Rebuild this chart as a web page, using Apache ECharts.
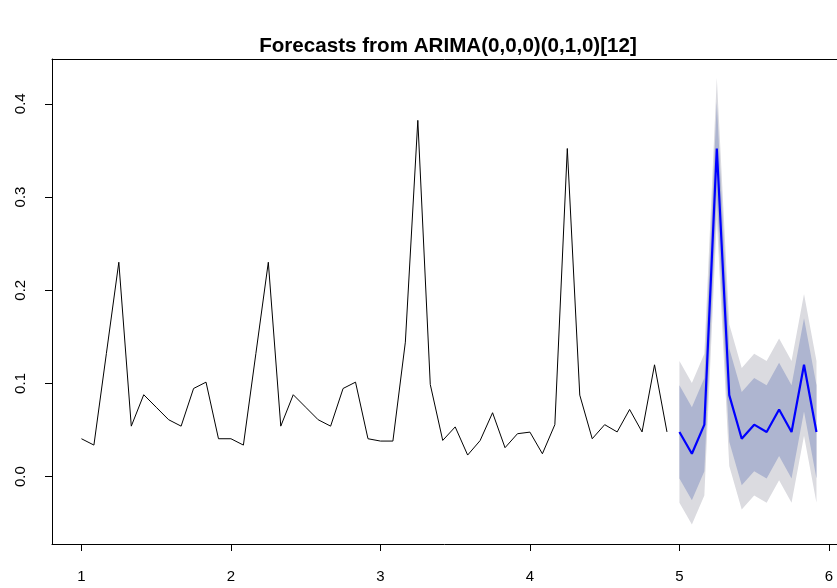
<!DOCTYPE html>
<html>
<head>
<meta charset="utf-8">
<script src="https://cdn.jsdelivr.net/npm/echarts@6/dist/echarts.min.js"></script>
<style>
  html, body { margin: 0; padding: 0; background: #fff; }
  #chart { width: 837px; height: 588px; }
</style>
</head>
<body>
<div id="chart"></div>
<script>
// observed series, monthly, years 1..4
const startYear = 1
const freq = 12
const history = [
  0.0407, 0.0339, 0.132, 0.230, 0.0542, 0.0879, 0.0745, 0.0611, 0.0542, 0.0946, 0.1014, 0.0407,
  0.0407, 0.0339, 0.132, 0.230, 0.0542, 0.0879, 0.0745, 0.0611, 0.0542, 0.0946, 0.1014, 0.0407,
  0.0382, 0.0382, 0.1443, 0.3822, 0.0989, 0.0389, 0.0534, 0.0232, 0.0387, 0.0686, 0.0311, 0.0461,
  0.0478, 0.0246, 0.0558, 0.352, 0.0875, 0.0407, 0.0558, 0.048, 0.0721, 0.048, 0.120, 0.048
]

// forecast for year 5 and its intervals
const forecastStart = 5
const forecast = [0.048, 0.0246, 0.0558, 0.352, 0.0875, 0.0407, 0.0558, 0.048, 0.0721, 0.048, 0.120, 0.048]
const hi80 = [0.098, 0.0746, 0.1058, 0.402, 0.1375, 0.0907, 0.1058, 0.098, 0.1221, 0.098, 0.170, 0.098]
const lo80 = [-0.002, -0.0254, 0.0058, 0.302, 0.0375, -0.0093, 0.0058, -0.002, 0.0221, -0.002, 0.070, -0.002]
const hi95 = [0.124, 0.1006, 0.1318, 0.428, 0.1635, 0.1167, 0.1318, 0.124, 0.1481, 0.124, 0.196, 0.124]
const lo95 = [-0.028, -0.0514, -0.0202, 0.276, 0.0115, -0.0353, -0.0202, -0.028, -0.0039, -0.028, 0.044, -0.028]

const xTicks = [1, 2, 3, 4, 5, 6]
const yTicks = [0, 0.1, 0.2, 0.3, 0.4]

const histData = history.map((v, i) => [startYear + i / freq, v])
const fcData = forecast.map((v, i) => [forecastStart + i / freq, v])

// 区间带：用多边形画
const bandSeries = (lo, hi, color) => ({
  type: 'custom',
  silent: true,
  clip: true,
  data: [0],
  renderItem: (params, api) => {
    const pts = []
    hi.forEach((v, i) => pts.push(api.coord([forecastStart + i / freq, v])))
    for (let i = lo.length - 1; i >= 0; i--) {
      pts.push(api.coord([forecastStart + i / freq, lo[i]]))
    }
    return { type: 'polygon', shape: { points: pts }, style: { fill: color } }
  }
})

const chart = echarts.init(document.getElementById('chart'))
const font = 'Liberation Sans, Arial, Helvetica, sans-serif'
const xMin = 0.803
const xMax = 6.054  // 右边框在画布外，所以截到画布边缘

chart.setOption({
  animation: false,
  title: {
    text: 'Forecasts from ARIMA(0,0,0)(0,1,0)[12]',
    left: 443,
    textAlign: 'center',
    top: 31,
    textStyle: { fontFamily: font, fontSize: 20.6, fontWeight: 'bold', color: '#000' }
  },
  grid: {
    show: false,
    left: 52,
    right: 0,
    top: 59,
    bottom: 44
  },
  xAxis: [
    {
      type: 'value',
      min: xMin,
      max: xMax,
      splitLine: { show: false },
      axisLine: { show: true, onZero: false, lineStyle: { color: '#000', width: 1 } },
      axisTick: { show: true, customValues: xTicks, length: 7, lineStyle: { color: '#000' } },
      axisLabel: {
        customValues: xTicks,
        margin: 25,
        fontFamily: font,
        fontSize: 15,
        color: '#000',
        formatter: v => String(v)
      }
    },
    {
      // 上边框
      type: 'value',
      position: 'top',
      min: xMin,
      max: xMax,
      splitLine: { show: false },
      axisLine: { show: true, onZero: false, lineStyle: { color: '#000', width: 1 } },
      axisTick: { show: false },
      axisLabel: { show: false }
    }
  ],
  yAxis: {
    type: 'value',
    min: -0.0722,
    max: 0.448,
    splitLine: { show: false },
    axisLine: { show: true, onZero: false, lineStyle: { color: '#000', width: 1 } },
    axisTick: { show: true, customValues: yTicks, length: 7, lineStyle: { color: '#000' } },
    axisLabel: {
      customValues: yTicks,
      rotate: 90,
      margin: 24,
      fontFamily: font,
      fontSize: 15,
      color: '#000',
      formatter: v => v.toFixed(1)
    }
  },
  series: [
    bandSeries(lo95, hi95, '#DBDBE0'),
    bandSeries(lo80, hi80, '#AEB5D0'),
    {
      type: 'line',
      data: histData,
      showSymbol: false,
      lineStyle: { color: '#000', width: 1 },
      silent: true
    },
    {
      type: 'line',
      data: fcData,
      showSymbol: false,
      lineStyle: { color: '#0000FF', width: 2.2 },
      silent: true
    }
  ]
})
</script>
</body>
</html>
